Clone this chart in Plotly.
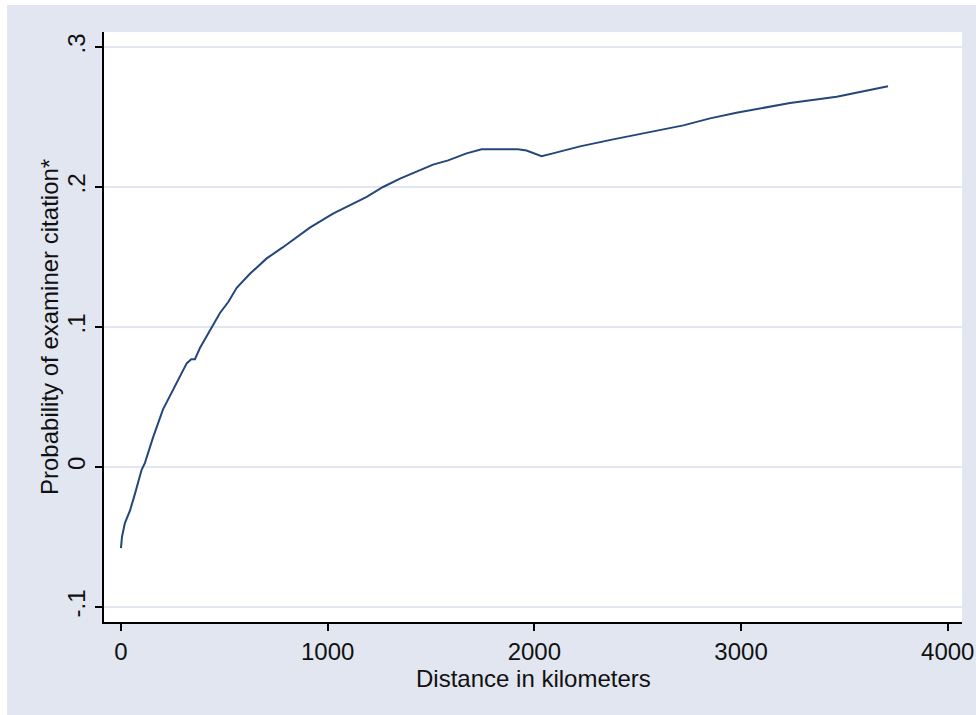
import plotly.graph_objects as go

# Distance (km) and estimated probability of examiner citation
distance_km = [0, 5, 19, 44, 68, 100, 116, 155, 203, 245, 276, 318, 340, 358, 382,
               431, 479, 520, 560, 624, 705, 784, 850, 914, 1026, 1108, 1189, 1268,
               1350, 1430, 1510, 1583, 1672, 1745, 1830, 1921, 1962, 2035, 2090,
               2221, 2381, 2543, 2721, 2850, 2978, 3237, 3463, 3711]
probability = [-0.058, -0.050, -0.040, -0.031, -0.019, -0.002, 0.003, 0.021, 0.041,
               0.053, 0.063, 0.074, 0.077, 0.077, 0.085, 0.098, 0.110, 0.118, 0.128,
               0.138, 0.149, 0.157, 0.164, 0.171, 0.181, 0.187, 0.193, 0.200, 0.206,
               0.211, 0.216, 0.219, 0.224, 0.227, 0.227, 0.227, 0.226, 0.222, 0.224,
               0.229, 0.234, 0.239, 0.244, 0.249, 0.253, 0.260, 0.2645, 0.272]

y_tick_vals = [-0.1, 0, 0.1, 0.2, 0.3]
y_tick_text = ["-.1", "0", ".1", ".2", ".3"]
x_tick_vals = [0, 1000, 2000, 3000, 4000]
x_tick_text = ["0", "1000", "2000", "3000", "4000"]
x_title = "Distance in kilometers"
y_title = "Probability of examiner citation*"

BG = "#E1E6F0"
FONT = "Liberation Sans, Arial, sans-serif"

fig = go.Figure()
fig.add_trace(go.Scatter(
    x=distance_km, y=probability, mode="lines",
    line=dict(color="#24467a", width=2),
    showlegend=False, hoverinfo="skip",
))

fig.update_layout(
    width=976, height=715,
    margin=dict(l=104, r=14, t=32, b=93, pad=0),
    paper_bgcolor=BG, plot_bgcolor="white",
    font=dict(family=FONT, size=24, color="#111111"),
    xaxis=dict(
        range=[-82, 4069], tickvals=x_tick_vals, ticktext=x_tick_text,
        showgrid=False, zeroline=False, automargin=False,
        showline=True, linecolor="black", linewidth=2,
        ticks="outside", ticklen=7, tickwidth=1.5, tickcolor="black",
        tickfont=dict(size=24),
    ),
    yaxis=dict(
        range=[-0.1107, 0.3107], tickvals=y_tick_vals, ticktext=y_tick_text,
        showgrid=True, gridcolor="#E1E6F0", gridwidth=2, zeroline=False,
        automargin=False,
        showline=True, linecolor="black", linewidth=2,
        ticks="outside", ticklen=7, tickwidth=1.5, tickcolor="black",
        tickangle=-90,
        tickfont=dict(size=24),
    ),
    annotations=[
        dict(text=x_title, xref="paper", yref="paper",
             x=0.5, y=(622 - 678) / 590, xanchor="center", yanchor="middle",
             showarrow=False, font=dict(size=24)),
        dict(text=y_title, xref="paper", yref="paper",
             x=(49 - 104) / 858, y=0.5, xanchor="center", yanchor="middle",
             textangle=-90, showarrow=False, font=dict(size=24)),
    ],
    shapes=[
        # white strips at the top and left edges of the page
        dict(type="rect", xref="paper", yref="paper",
             x0=-0.3, x1=1.2, y0=(622 - 5) / 590, y1=1.2,
             fillcolor="white", line=dict(width=0), layer="below"),
        dict(type="rect", xref="paper", yref="paper",
             x0=-0.3, x1=(7 - 104) / 858, y0=-0.3, y1=1.2,
             fillcolor="white", line=dict(width=0), layer="below"),
    ],
)

fig.write_html("out.html")
